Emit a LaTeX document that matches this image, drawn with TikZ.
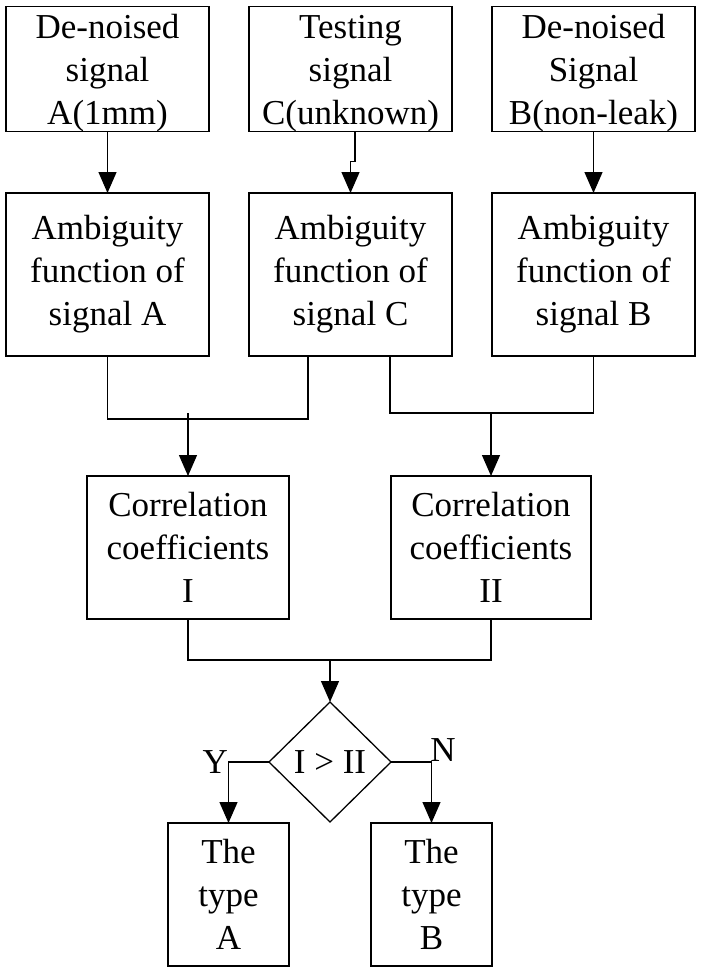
\documentclass[tikz,border=0pt]{standalone}
\usepackage{fontspec}
\setmainfont{Liberation Serif}
\usepackage{tikz}
\usetikzlibrary{calc,arrows.meta,shapes.geometric}

\tikzset{
  box/.style={draw, line width=1.3pt, inner sep=0pt, outer sep=0pt, align=center,
              font=\fontsize{35}{43}\selectfont},
  arr/.style={line width=1.3pt, -{Triangle[length=21pt,width=18pt]}},
  ln/.style={line width=1.3pt}
}

\begin{document}
\begin{tikzpicture}[x=1pt,y=1pt,yscale=-1,xscale=1]
\useasboundingbox (0,0) rectangle (702,974);
%Shape: Rectangle [inputs]
\node [box, minimum width=203, minimum height=122] (tA) at (107.5,69) {\rule{0pt}{32pt}De-noised\\signal\\A(1mm)};
\node [box, minimum width=203, minimum height=122] (tC) at (350.5,69) {\rule{0pt}{32pt}Testing\\signal\\C(unknown)};
\node [box, minimum width=203, minimum height=122] (tB) at (593.5,69) {\rule{0pt}{32pt}De-noised\\Signal\\B(non-leak)};
%Shape: Rectangle [ambiguity]
\node [box, minimum width=203, minimum height=163] (aA) at (107.5,274.5) {Ambiguity\\function of\\signal A};
\node [box, minimum width=203, minimum height=163] (aC) at (350.5,274.5) {Ambiguity\\function of\\signal C};
\node [box, minimum width=203, minimum height=163] (aB) at (593.5,274.5) {Ambiguity\\function of\\signal B};
%Shape: Rectangle [correlation]
\node [box, minimum width=202, minimum height=143] (cI) at (188,547.5) {Correlation\\coefficients\\I};
\node [box, minimum width=200, minimum height=143] (cII) at (491,547.5) {Correlation\\coefficients\\II};
%Shape: Diamond
\node [box, shape=diamond, minimum width=122, minimum height=120] (dia) at (330,762) {I > II};
%Shape: Rectangle [results]
\node [box, minimum width=121, minimum height=143] (rA) at (228.5,894.5) {The\\type\\A};
\node [box, minimum width=121, minimum height=143] (rB) at (431.5,894.5) {The\\type\\B};
%Joints
\coordinate (kC) at ($(tC.south)+(4.5,0)$);
\coordinate (jL) at (188,413);
\coordinate (jR) at (491,413);
\coordinate (jM) at (330,660);
%Connectors
\draw [arr] (tA) -- (aA);
\draw [arr] (kC) -- ++(0,30) -- ++(-4.5,0) -- (aC.north);
\draw [arr] (tB) -- (aB);
\draw [ln] (aA.south) |- ($(aC.south)+(-42.5,63)$) -- ($(aC.south)+(-42.5,0)$);
\draw [ln] ($(aC.south)+(39.5,0)$) |- (jR -| aB.south) -- (aB.south);
\draw [arr] (jL) -- (cI);
\draw [arr] (jR) -- (cII);
\draw [ln] (cI.south) |- (jM) -| (cII.south);
\draw [arr] (jM) -- (dia);
\draw [arr] (dia.west) -| (rA.north);
\draw [arr] (dia.east) -| (rB.north);
%Labels
\node [font=\fontsize{35}{43}\selectfont, anchor=east, inner sep=1pt] (lY) at ($(dia.west)+(-40,0)$) {Y};
\node [font=\fontsize{35}{43}\selectfont, anchor=south, inner sep=0pt] (lN) at ($(dia.east)+(52,0)$) {N};
\end{tikzpicture}
\end{document}
